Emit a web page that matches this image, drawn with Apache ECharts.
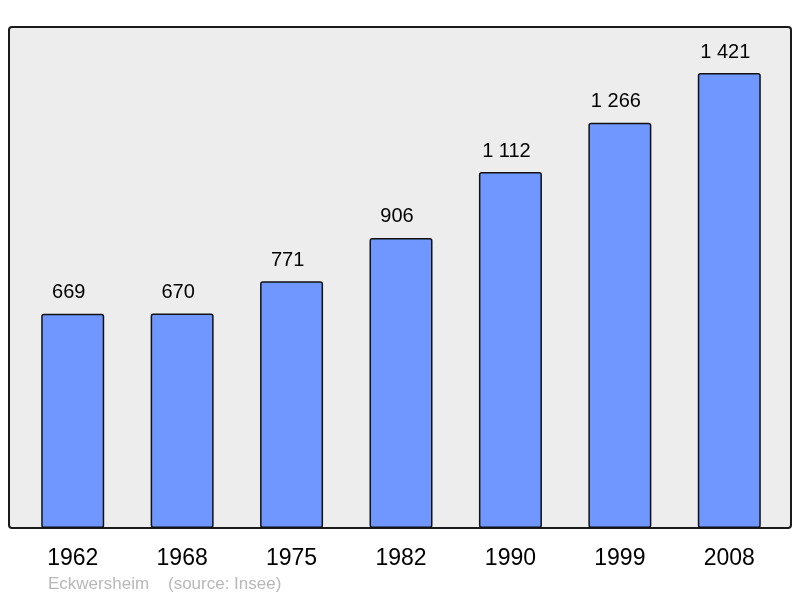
<!DOCTYPE html>
<html><head><meta charset="utf-8">
<script src="https://cdn.jsdelivr.net/npm/echarts@6/dist/echarts.min.js"></script>
<style>html,body{margin:0;padding:0;background:#fff}#c{width:800px;height:598px}</style>
</head><body><div id="c"></div>
<script>
const categories = ['1962','1968','1975','1982','1990','1999','2008'];
const population = [669, 670, 771, 906, 1112, 1266, 1421];
const sourceText = 'Eckwersheim    (source: Insee)';

function fmt(v){ return String(v).replace(/\B(?=(\d{3})+(?!\d))/g, ' '); }

const chart = echarts.init(document.getElementById('c'));
chart.setOption({
  animation: false,
  backgroundColor: '#ffffff',
  graphic: [
    { type: 'rect', z: -10, shape: { x: 9, y: 27, width: 782, height: 501, r: 3 },
      style: { fill: '#ededed', stroke: '#1a1a1a', lineWidth: 2 } },
    { type: 'text', left: 48, top: 576,
      style: { text: sourceText, fill: '#b8b8b8', font: '17px "Liberation Sans", Arial, sans-serif' } }
  ],
  grid: { left: 18, right: 16, top: 27, bottom: 70 },
  xAxis: {
    type: 'category', data: categories,
    axisLine: { show: false }, axisTick: { show: false },
    axisLabel: { color: '#000', fontSize: 23, fontFamily: 'Liberation Sans', margin: 19 }
  },
  yAxis: {
    type: 'value', min: 0, max: 1565,
    show: false, splitLine: { show: false }
  },
  series: [{
    type: 'bar', data: population, barWidth: 63,
    itemStyle: { color: '#7096ff', borderColor: '#111', borderWidth: 1.5, borderRadius: 2 },
    label: { show: true, position: 'top', distance: 11, offset: [-4, 0], color: '#000', fontSize: 20,
      fontFamily: 'Liberation Sans', formatter: p => fmt(p.value) }
  }]
});
</script></body></html>
